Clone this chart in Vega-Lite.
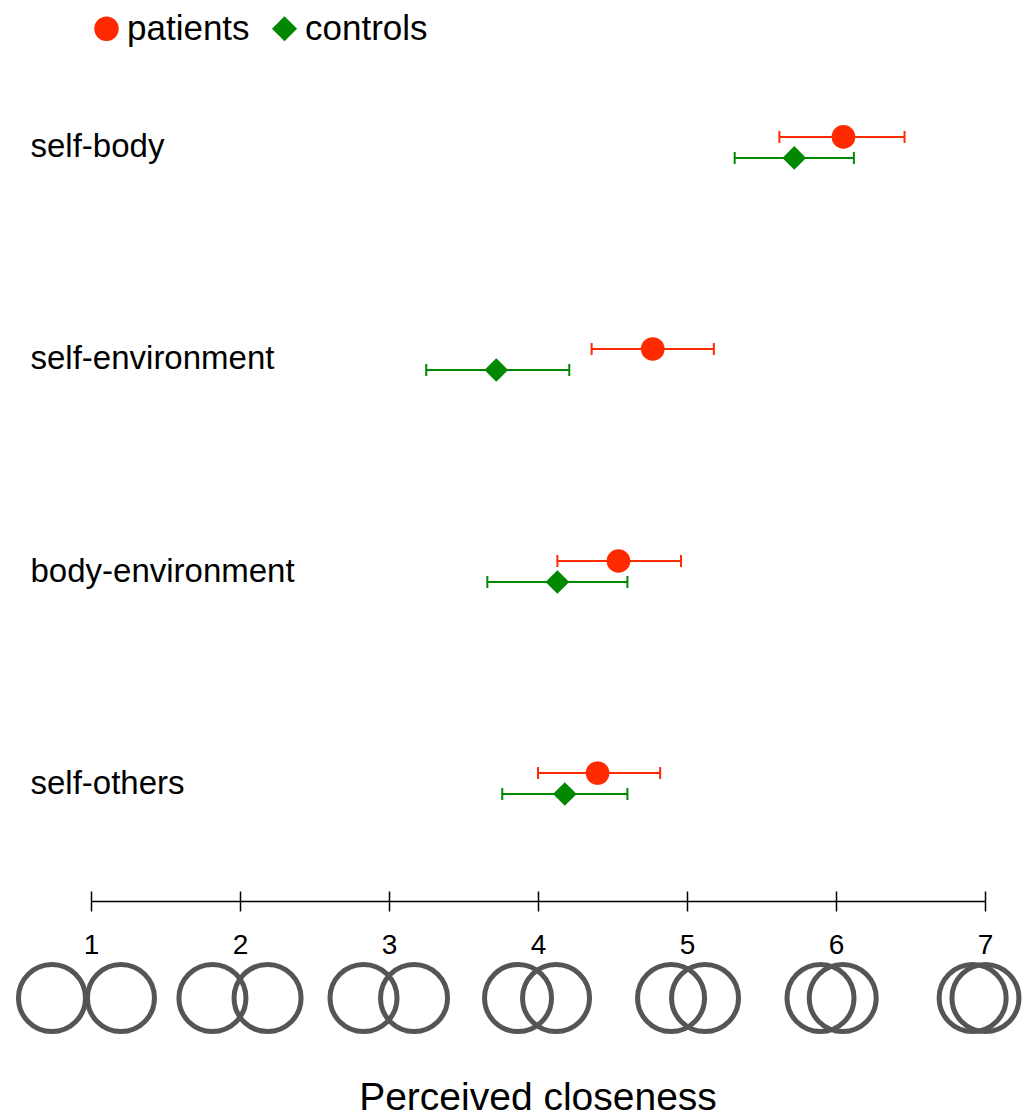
{
  "$schema": "https://vega.github.io/schema/vega-lite/v6.json",
  "padding": {"left": 8, "top": 11, "right": 5, "bottom": 0},
  "bounds": "flush",
  "spacing": 61,
  "datasets": {
    "errs": [
      {"pair": "self-body", "group": "patients", "mean": 6.05, "lo": 5.62, "hi": 6.46},
      {"pair": "self-body", "group": "controls", "mean": 5.72, "lo": 5.32, "hi": 6.12},
      {"pair": "self-environment", "group": "patients", "mean": 4.77, "lo": 4.36, "hi": 5.18},
      {"pair": "self-environment", "group": "controls", "mean": 3.72, "lo": 3.25, "hi": 4.21},
      {"pair": "body-environment", "group": "patients", "mean": 4.54, "lo": 4.13, "hi": 4.96},
      {"pair": "body-environment", "group": "controls", "mean": 4.13, "lo": 3.66, "hi": 4.6},
      {"pair": "self-others", "group": "patients", "mean": 4.4, "lo": 4.0, "hi": 4.82},
      {"pair": "self-others", "group": "controls", "mean": 4.18, "lo": 3.76, "hi": 4.6}
    ],
    "circles": [
      {"level": 1, "cx": 0.738}, {"level": 1, "cx": 1.201},
      {"level": 2, "cx": 1.815}, {"level": 2, "cx": 2.185},
      {"level": 3, "cx": 2.829}, {"level": 3, "cx": 3.168},
      {"level": 4, "cx": 3.866}, {"level": 4, "cx": 4.121},
      {"level": 5, "cx": 4.893}, {"level": 5, "cx": 5.121},
      {"level": 6, "cx": 5.896}, {"level": 6, "cx": 6.045},
      {"level": 7, "cx": 6.917}, {"level": 7, "cx": 7.003}
    ]
  },
  "vconcat": [
    {
      "width": 894,
      "height": 871,
      "data": {"name": "errs"},
      "encoding": {
        "y": {
          "field": "pair", "type": "nominal",
          "sort": ["self-body", "self-environment", "body-environment", "self-others"],
          "scale": {"paddingInner": 0, "paddingOuter": 0.054},
          "axis": {"title": null, "domain": false, "ticks": false, "tickSize": 0, "labelAlign": "left", "labelPadding": 61, "labelFontSize": 33, "labelColor": "black", "labelFont": "Liberation Sans", "labelLimit": 0, "grid": false}
        },
        "yOffset": {
          "field": "group", "type": "nominal",
          "sort": ["patients", "controls"],
          "scale": {"paddingInner": 0, "paddingOuter": 0, "range": [85, 127]}
        },
        "color": {
          "field": "group", "type": "nominal",
          "scale": {"domain": ["patients", "controls"], "range": ["#ff2a00", "#008800"]},
          "legend": {"orient": "none", "legendX": -2, "legendY": -19, "direction": "horizontal", "title": null, "labelFontSize": 35, "labelFont": "Liberation Sans", "labelColor": "black", "symbolSize": 529, "labelOffset": 3, "columnPadding": 17, "symbolOpacity": 1}
        }
      },
      "layer": [
        {
          "mark": {"type": "rule", "strokeWidth": 2},
          "encoding": {
            "x": {"field": "lo", "type": "quantitative", "scale": {"domain": [1, 7]},
              "axis": {"title": null, "values": [1, 2, 3, 4, 5, 6, 7], "format": "d", "grid": false, "labelFlush": false, "domainColor": "black", "domainWidth": 1.5, "tickColor": "black", "tickWidth": 1.5, "tickSize": 10, "labelFontSize": 28, "labelPadding": 20, "labelColor": "black", "labelFont": "Liberation Sans"}},
            "x2": {"field": "hi"}
          }
        },
        {
          "mark": {"type": "tick", "thickness": 2, "size": 12, "opacity": 1},
          "encoding": {
            "x": {"field": "lo", "type": "quantitative", "scale": {"domain": [1, 7]},
              "axis": {"title": null, "values": [1, 2, 3, 4, 5, 6, 7], "format": "d", "grid": false, "labelFlush": false, "domainColor": "black", "domainWidth": 1.5, "tickColor": "black", "tickWidth": 1.5, "tickSize": 10, "labelFontSize": 28, "labelPadding": 20, "labelColor": "black", "labelFont": "Liberation Sans"}}
          }
        },
        {
          "mark": {"type": "tick", "thickness": 2, "size": 12, "opacity": 1},
          "encoding": {
            "x": {"field": "hi", "type": "quantitative", "scale": {"domain": [1, 7]},
              "axis": {"title": null, "values": [1, 2, 3, 4, 5, 6, 7], "format": "d", "grid": false, "labelFlush": false, "domainColor": "black", "domainWidth": 1.5, "tickColor": "black", "tickWidth": 1.5, "tickSize": 10, "labelFontSize": 28, "labelPadding": 20, "labelColor": "black", "labelFont": "Liberation Sans"}}
          }
        },
        {
          "mark": {"type": "point", "filled": true, "size": 560, "opacity": 1},
          "encoding": {
            "x": {"field": "mean", "type": "quantitative", "scale": {"domain": [1, 7]},
              "axis": {"title": null, "values": [1, 2, 3, 4, 5, 6, 7], "format": "d", "grid": false, "labelFlush": false, "domainColor": "black", "domainWidth": 1.5, "tickColor": "black", "tickWidth": 1.5, "tickSize": 10, "labelFontSize": 28, "labelPadding": 20, "labelColor": "black", "labelFont": "Liberation Sans"}},
            "shape": {"field": "group", "type": "nominal", "scale": {"domain": ["patients", "controls"], "range": ["circle", "diamond"]}}
          }
        }
      ]
    },
    {
      "width": 894,
      "height": 72,
      "data": {"name": "circles"},
      "mark": {"type": "point", "shape": "circle", "filled": false, "color": "#555555", "strokeWidth": 5, "size": 4489, "opacity": 1},
      "encoding": {
        "x": {"field": "cx", "type": "quantitative", "scale": {"domain": [1, 7]},
          "axis": {"orient": "top", "offset": 61, "title": null, "values": [1, 2, 3, 4, 5, 6, 7], "domain": false, "labels": false, "ticks": true, "tickSize": 10, "tickColor": "black", "tickWidth": 1.5, "grid": false}},
        "detail": {"field": "level", "type": "nominal"}
      },
      "title": {"text": "Perceived closeness", "orient": "bottom", "anchor": "middle", "fontSize": 39, "fontWeight": "normal", "font": "Liberation Sans", "color": "black", "offset": 37}
    }
  ],
  "config": {"view": {"stroke": null}, "font": "Liberation Sans"}
}
